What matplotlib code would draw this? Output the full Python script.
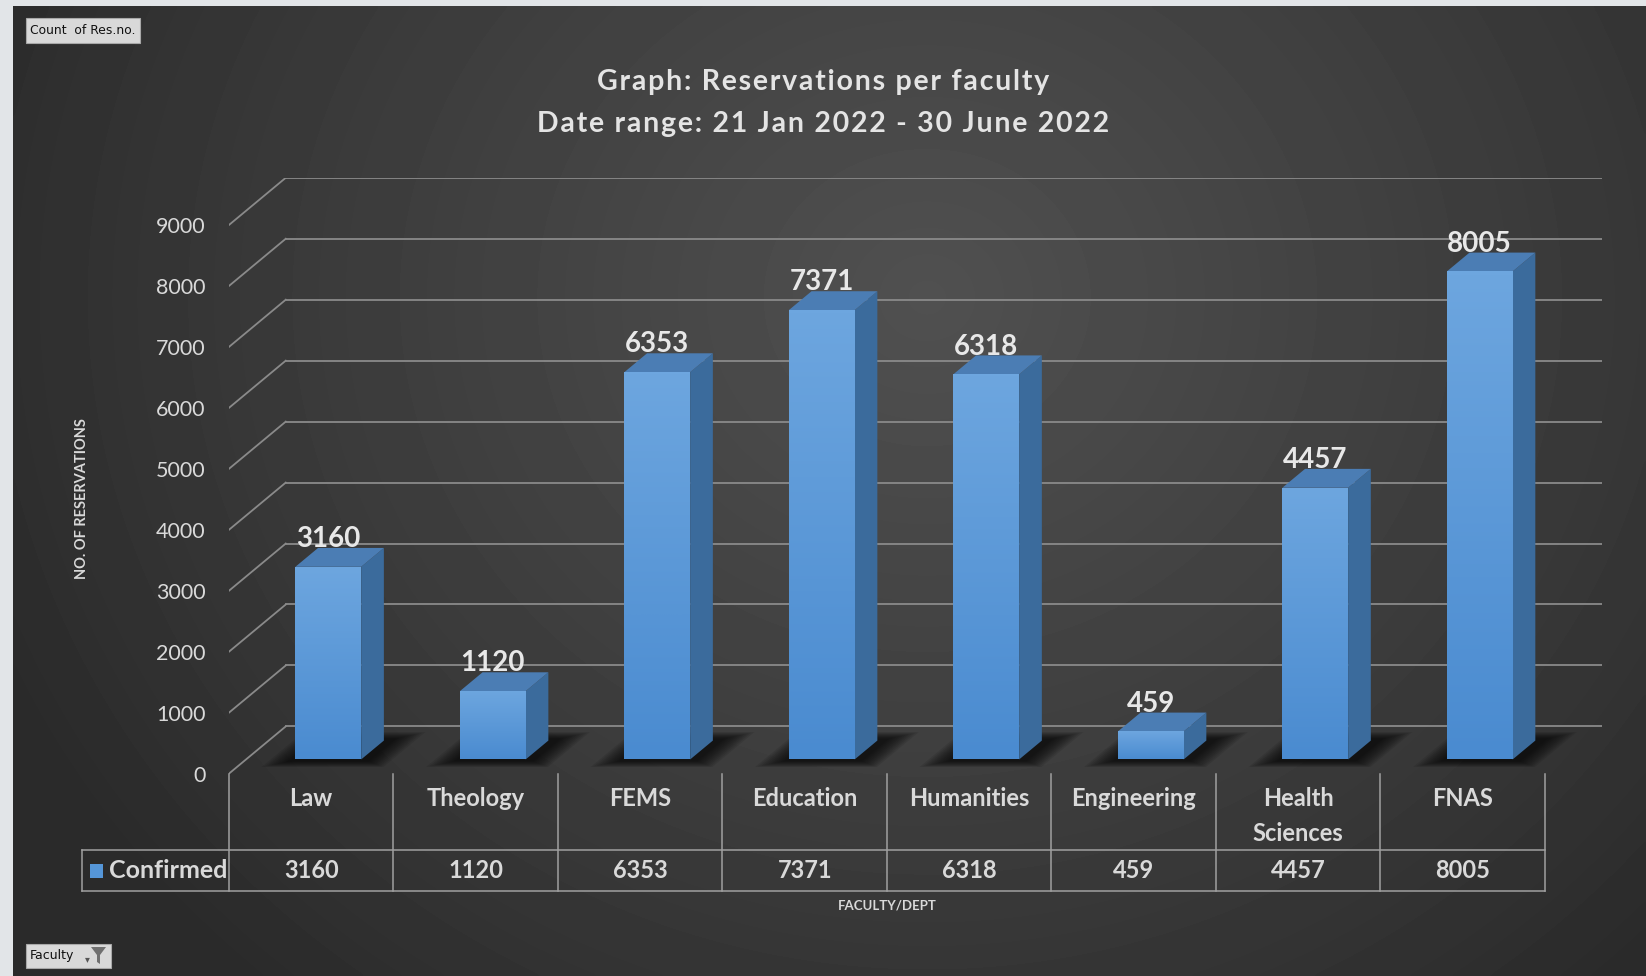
import numpy as np
import matplotlib
matplotlib.use("Agg")
import matplotlib.pyplot as plt
from matplotlib.patches import Polygon, Rectangle
from matplotlib.colors import LinearSegmentedColormap
from matplotlib.transforms import blended_transform_factory

# ---------------- data ----------------
faculties = ["Law", "Theology", "FEMS", "Education", "Humanities",
             "Engineering", "Health\nSciences", "FNAS"]
confirmed = [3160, 1120, 6353, 7371, 6318, 459, 4457, 8005]
y_ticks = [0, 1000, 2000, 3000, 4000, 5000, 6000, 7000, 8000, 9000]
series_name = "Confirmed"
title_lines = ["Graph: Reservations per faculty",
               "Date range: 21 Jan 2022 - 30 June 2022"]

W, H = 1646, 976
FONT = "Lato"
TXT = "#d9d9d9"
GRID = "#8a8a8a"

# oblique depth offset, in data units (x: categories, y: value)
DX = 0.345
DY = 774.0
BW = 0.40            # bar width
D0, D1 = 0.30, 0.70  # bar depth front / back

fig = plt.figure(figsize=(W / 100, H / 100), dpi=100)
fig.patch.set_facecolor("#e2e5e8")

# dark gradient panel
bg = fig.add_axes([13 / W, 0, 1 - 13 / W, 1 - 6 / H])
bg.axis("off")
yy, xx = np.mgrid[0:1:300j, 0:1:500j]
r = np.sqrt(((xx - 0.56) / 0.62) ** 2 + ((yy - 0.30) / 0.95) ** 2)
shade = 0.165 + 0.15 * np.clip(1 - r, 0, 1) ** 0.9
bg.imshow(shade, cmap="gray", vmin=0, vmax=1, aspect="auto",
          extent=[0, 1, 0, 1], interpolation="bicubic")
bg.set_xlim(0, 1)
bg.set_ylim(0, 1)

# main axes
top_px, bot_px = 773.6 - (9000 + DY) * 0.06096, 773.6
ax = fig.add_axes([229 / W, 1 - bot_px / H, (1601.7 - 229) / W, (bot_px - top_px) / H])
ax.patch.set_alpha(0)
for s in ax.spines.values():
    s.set_visible(False)
ax.set_xticks([])
ax.set_yticks(y_ticks)
ax.set_yticklabels([str(t) for t in y_ticks], fontfamily=FONT, fontsize=15.5, color=TXT)
ax.tick_params(axis="y", length=0, pad=17)


def P(x, v, d):
    return (x + d * DX, v + d * DY)


# back wall gridlines + slanted floor lines
for t in y_ticks:
    ax.plot(*zip(P(-0.5, t, 0), P(-0.5, t, 1)), color=GRID, lw=1.3, zorder=1)
    ax.plot(*zip(P(-0.5, t, 1), P(7.5, t, 1)), color=GRID, lw=1.3, zorder=1)

# soft shadows on the floor
for i in range(len(confirmed)):
    x0, x1 = i - BW / 2, i + BW / 2
    for s in np.linspace(1, 0, 10):
        pts = [P(x0 - 0.02 - 0.13 * s, 0, 0.26 - 0.12 * s),
               P(x1 + 0.06 + 0.13 * s, 0, 0.26 - 0.12 * s),
               P(x1 + 0.06 + 0.13 * s, 0, 0.74 + 0.14 * s),
               P(x0 - 0.02 - 0.13 * s, 0, 0.74 + 0.14 * s)]
        ax.add_patch(Polygon(pts, closed=True, facecolor="black", edgecolor="none",
                             alpha=0.09, zorder=2))

# bars
grad = np.linspace(1, 0, 100).reshape(-1, 1)
front_cmap = LinearSegmentedColormap.from_list("bar", ["#4a8bd0", "#6da6df"])
for i, v in enumerate(confirmed):
    x0, x1 = i - BW / 2, i + BW / 2
    side = [P(x1, 0, D0), P(x1, v, D0), P(x1, v, D1), P(x1, 0, D1)]
    ax.add_patch(Polygon(side, closed=True, facecolor="#3b6b9c", edgecolor="none", zorder=3))
    topf = [P(x0, v, D0), P(x1, v, D0), P(x1, v, D1), P(x0, v, D1)]
    ax.add_patch(Polygon(topf, closed=True, facecolor="#4b7db4", edgecolor="none", zorder=3))
    fx0, fy0 = P(x0, 0, D0)
    fx1, fy1 = P(x1, v, D0)
    front = Rectangle((fx0, fy0), fx1 - fx0, fy1 - fy0, facecolor="#5596d8",
                      edgecolor="none", zorder=4)
    ax.add_patch(front)
    im = ax.imshow(grad, cmap=front_cmap, aspect="auto",
                   extent=[fx0, fx1, fy0, fy1], zorder=4.5, interpolation="bicubic")
    im.set_clip_path(front)
    lx, ly = P(i, v, D1)
    ax.text(lx - DX * (D1 - D0), ly + 15, f"{v}", ha="center", va="baseline",
            fontfamily=FONT, fontweight="bold", fontsize=20, color="#e8e8e8", zorder=6)
ax.set_xlim(-0.5, 7.5 + DX)
ax.set_ylim(0, 9000 + DY)

# data table
tr = blended_transform_factory(ax.transData, ax.transAxes)
ah = bot_px - top_px
y_mid = -(850 - 773.6) / ah
y_bot = -(891 - 773.6) / ah
x_left = -0.5 + (82 - 229) / 164.5
TL = "#a0a0a0"
for k in range(len(faculties) + 1):
    ax.plot([k - 0.5, k - 0.5], [0, y_bot], color=TL, lw=1.1, transform=tr, clip_on=False)
ax.plot([x_left, x_left], [y_mid, y_bot], color=TL, lw=1.1, transform=tr, clip_on=False)
for yv in (y_mid, y_bot):
    ax.plot([x_left, 7.5], [yv, yv], color=TL, lw=1.1, transform=tr, clip_on=False)

for i, (name, v) in enumerate(zip(faculties, confirmed)):
    ax.text(i, -(787 - 773.6) / ah, name, ha="center", va="top", transform=tr,
            fontfamily=FONT, fontweight="bold", fontsize=17, color=TXT,
            linespacing=1.62, clip_on=False)
    ax.text(i, -(871 - 773.6) / ah, f"{v}", ha="center", va="center", transform=tr,
            fontfamily=FONT, fontweight="bold", fontsize=17, color=TXT, clip_on=False)

ax.add_patch(Rectangle((-0.5 + (90 - 229) / 164.5, -(878 - 773.6) / ah), 13 / 164.5, 14 / ah,
                       facecolor="#5596d8", edgecolor="none", transform=tr, clip_on=False))
ax.text(-0.5 + (109 - 229) / 164.5, -(871 - 773.6) / ah, series_name, ha="left", va="center",
        transform=tr, fontfamily=FONT, fontweight="bold", fontsize=18, color=TXT, clip_on=False)

ax.text(3.5, -(905 - 773.6) / ah, "FACULTY/DEPT", ha="center", va="center", transform=tr,
        fontfamily=FONT, fontweight="bold", fontsize=9.5, color=TXT, clip_on=False)

fig.text(82 / W, 1 - 499 / H, "NO. OF RESERVATIONS", rotation=90, ha="center", va="center",
         fontfamily=FONT, fontweight="bold", fontsize=10.5, color=TXT)

# title, slightly letter-spaced
for line, ypx in zip(title_lines, (82, 124)):
    spaced = "\u200a".join(line)
    fig.text(823 / W, 1 - ypx / H, spaced, ha="center", va="center",
             fontfamily=[FONT, "DejaVu Sans"], fontweight="bold", fontsize=20.5, color="#e4e4e4")

# pivot field buttons
fig.patches.append(Rectangle((26 / W, 1 - 43 / H), 114 / W, 25 / H, transform=fig.transFigure,
                             facecolor="#d9d9d9", edgecolor="#a8a8a8", lw=0.8))
fig.text(30 / W, 1 - 30.5 / H, "Count  of Res.no.", ha="left", va="center",
         fontfamily="DejaVu Sans", fontsize=8.9, color="#111111")
fig.patches.append(Rectangle((26 / W, 1 - 968 / H), 85 / W, 24 / H, transform=fig.transFigure,
                             facecolor="#d9d9d9", edgecolor="#a8a8a8", lw=0.8))
fig.text(30 / W, 1 - 956 / H, "Faculty", ha="left", va="center",
         fontfamily="DejaVu Sans", fontsize=9, color="#111111")
fig.text(87 / W, 1 - 959 / H, "\u25be", ha="center", va="center",
         fontfamily="DejaVu Sans", fontsize=7, color="#555555")
fig.patches.append(Polygon([(91 / W, 1 - 947 / H), (106 / W, 1 - 947 / H), (100 / W, 1 - 955 / H),
                            (100 / W, 1 - 964 / H), (97 / W, 1 - 962 / H), (97 / W, 1 - 955 / H)],
                           closed=True, transform=fig.transFigure, facecolor="#707070",
                           edgecolor="none"))

fig.savefig("out.png", dpi=100, facecolor=fig.get_facecolor())
